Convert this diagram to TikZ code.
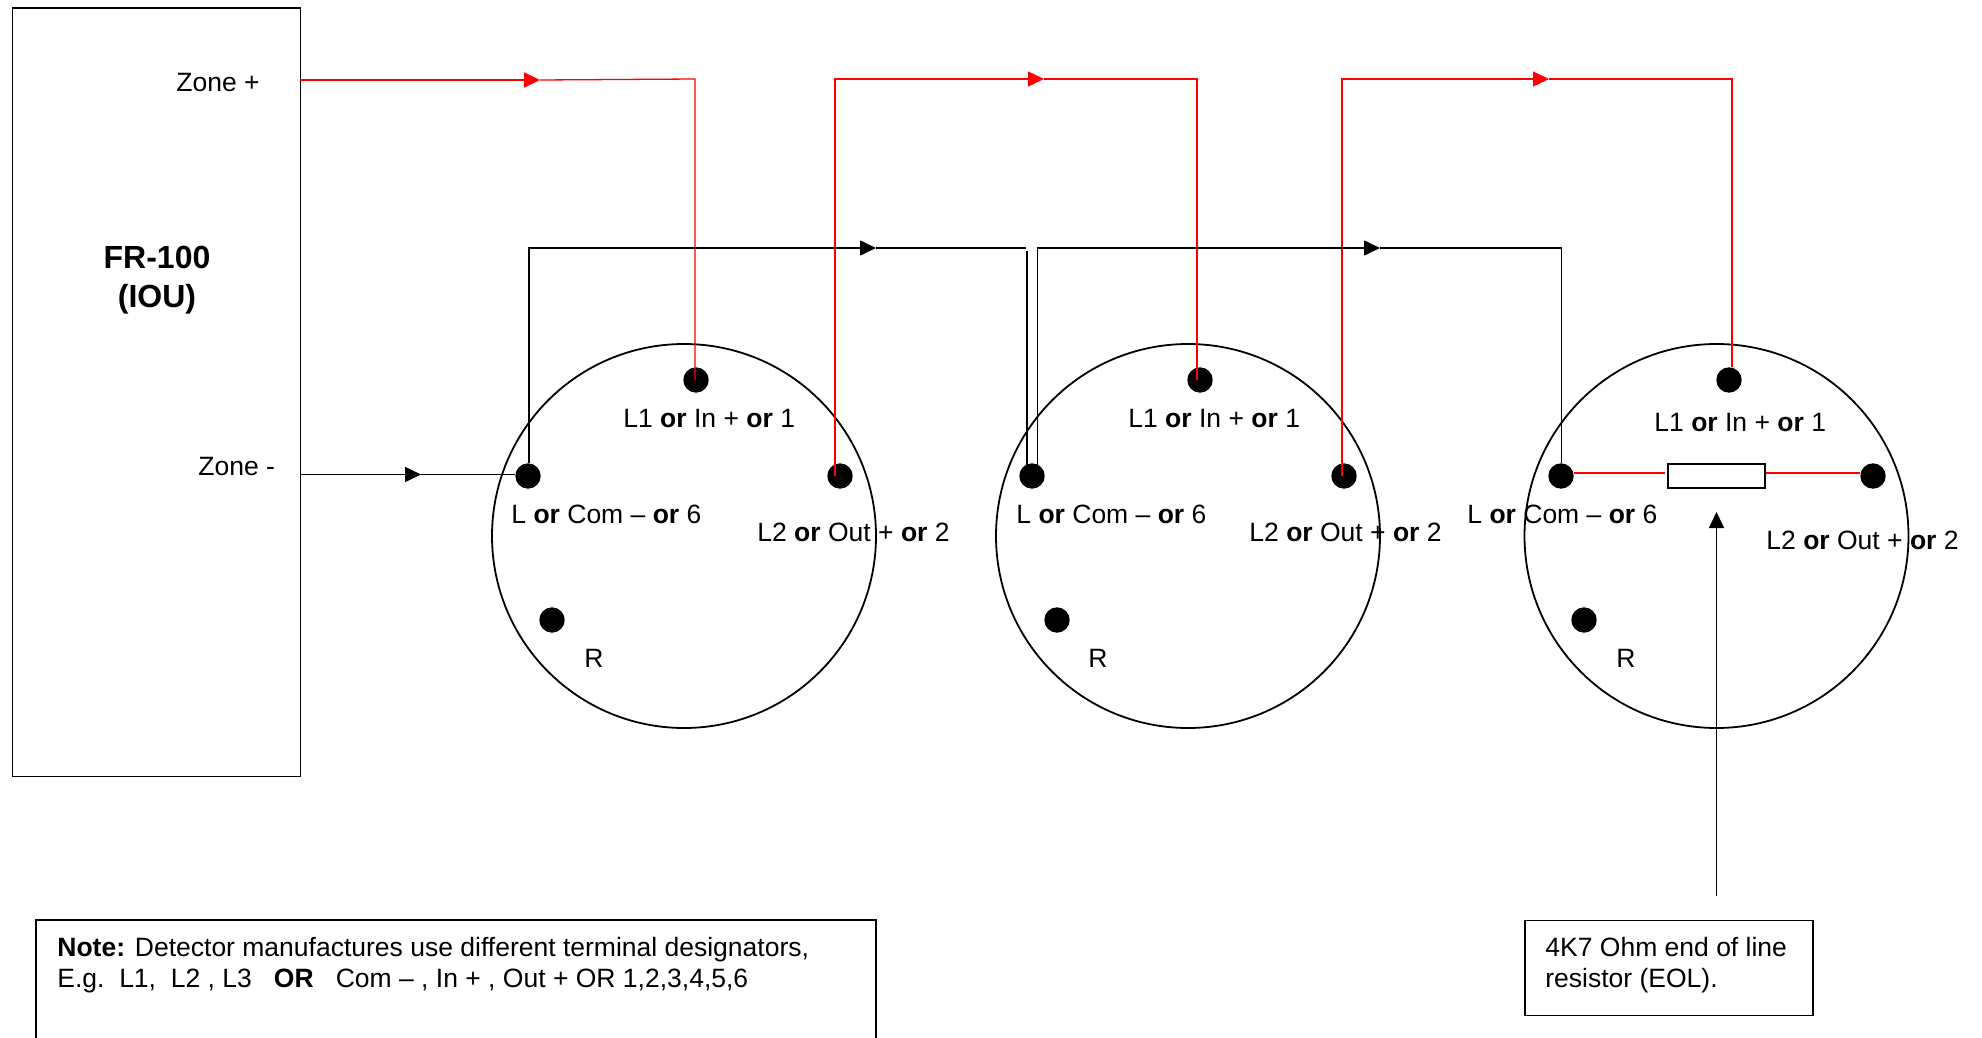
\documentclass[tikz,border=0pt]{standalone}
\usepackage{fontspec}
\setmainfont{Liberation Sans}
\usetikzlibrary{arrows.meta,positioning}
\definecolor{wirered}{RGB}{255,0,0}
\newcommand{\orb}{\textbf{or}}
\tikzset{
  x=0.5pt,y=-0.5pt,
  every node/.style={font=\fontsize{13.25}{15}\selectfont},
  lbl/.style={anchor=base west,inner sep=0pt},
  title/.style={anchor=base,inner sep=0pt,font=\fontsize{16}{18}\selectfont\bfseries},
  frame/.style={draw=black,line width=0.9pt},
  detector/.style={circle,draw=black,line width=0.9pt,minimum size=192pt,inner sep=0pt},
  term/.style={circle,fill=black,minimum size=12.7pt,inner sep=0pt},
  redw/.style={draw=wirered,line width=0.65pt},
  blkw/.style={draw=black,line width=0.8pt},
  redtip/.style={redw,-{Triangle[length=8pt,width=7.5pt]}},
  blktip/.style={blkw,-{Triangle[length=8pt,width=7.5pt]}}
}
\begin{document}
\begin{tikzpicture}
\useasboundingbox (0,0) rectangle (1982,1038);
% panel
\node[frame,anchor=north west,minimum width=144pt,minimum height=384pt,inner sep=0pt] (fr) at (11.5,7.5) {};
\node[title] (frt) at (157,268) {FR-100};
\node[title] (frb) at (157,307) {(IOU)};
\node[lbl] (zp) at (176,92) {Zone +};
\node[lbl] (zm) at (198,475) {Zone -};
% detectors
\node[detector] (c1) at (684,536) {};
\node[detector] (c2) at (1188,536) {};
\node[detector] (c3) at (1716.5,536) {};
% terminals
\node[term] (a1) at (696,380) {};
\node[term] (a2) at (528,476) {};
\node[term] (a3) at (840,476) {};
\node[term] (a4) at (552,620) {};
\node[term] (b1) at (1200,380) {};
\node[term] (b2) at (1032,476) {};
\node[term] (b3) at (1344,476) {};
\node[term] (b4) at (1057,620) {};
\node[term] (e1) at (1729,380) {};
\node[term] (e2) at (1561,476) {};
\node[term] (e3) at (1873,476) {};
\node[term] (e4) at (1584,620) {};
% terminal labels
\node[lbl] (la1) at (623,427) {L1 \orb{} In + \orb{} 1};
\node[lbl] (la2) at (511,523) {L \orb{} Com – \orb{} 6};
\node[lbl] (la3) at (757,541) {L2 \orb{} Out + \orb{} 2};
\node[lbl] (la4) at (584,667) {R};
\node[lbl] (lb1) at (1128,427) {L1 \orb{} In + \orb{} 1};
\node[lbl] (lb2) at (1016,523) {L \orb{} Com – \orb{} 6};
\node[lbl] (lb3) at (1249,541) {L2 \orb{} Out + \orb{} 2};
\node[lbl] (lb4) at (1088,667) {R};
\node[lbl] (le1) at (1654,431) {L1 \orb{} In + \orb{} 1};
\node[lbl] (le2) at (1467,523) {L \orb{} Com – \orb{} 6};
\node[lbl] (le3) at (1766,549) {L2 \orb{} Out + \orb{} 2};
\node[lbl] (le4) at (1616,667) {R};
% resistor
\node[frame,fill=white,minimum width=48.5pt,minimum height=12pt,inner sep=0pt] (res) at (1716.5,476) {};
% red loop
\coordinate (zpw) at (300,80);
\coordinate (rt1) at (540,80);
\coordinate (rc1) at (695,79);
\coordinate (rc2) at (835,79);
\coordinate (rt2) at (1044,79);
\coordinate (rc3) at (1197,79);
\coordinate (rc4) at (1342,79);
\coordinate (rt3) at (1549,79);
\coordinate (rc5) at (1732,79);
\draw[redtip,line width=1pt] (zpw) -- (rt1);
\draw[redw] (rt1) -- (rc1) -- (rc1 |- a1.center);
\draw[redtip] (a3.center -| rc2) -- (rc2) -- (rt2);
\draw[redw] (rt2) -- (rc3) -- (rc3 |- b1.center);
\draw[redtip] (b3.center -| rc4) -- (rc4) -- (rt3);
\draw[redw] (rt3) -- (rc5) -- (rc5 |- e1.north);
% black loop
\coordinate (zmw) at (300,474.5);
\coordinate (bt0) at (421,474.5);
\coordinate (bc1) at (529,248);
\coordinate (bt1) at (876,248);
\coordinate (bc2) at (1026,248);
\coordinate (bc3) at (1037.5,248);
\coordinate (bt2) at (1380,248);
\coordinate (bc4) at (1561.5,248);
\coordinate (bd2) at (1027,251);
\draw[blktip] (zmw) -- (bt0);
\draw[blkw] (bt0) -- (bt0 -| a2.west);
\draw[blktip] (a2.north -| bc1) -- (bc1) -- (bt1);
\draw[blkw] (bt1) -- (bc2);
\draw[blkw] (bd2) -- (bd2 |- b2.center);
\draw[blktip] (b2.center -| bc3) -- (bc3) -- (bt2);
\draw[blkw] (bt2) -- (bc4) -- (bc4 |- e2.north);
% resistor leads
\coordinate (rl) at ([yshift=1.5pt,xshift=-1pt]res.west);
\coordinate (rr) at ([yshift=1.5pt]res.east);
\draw[redw] (rl) -- (rl -| e2.east);
\draw[redw] (rr) -- (rr -| e3.west);
% notes
\draw[frame] (36,1038) |- (876,920) -- (876,1038);
\node[lbl] (n1) at (57,956) {\textbf{Note:} Detector manufactures use different terminal designators,};
\node[lbl] (n2) at (57,987) {E.g.\ \ L1,\ \ L2 , L3\ \ \ \textbf{OR}\ \ \ Com – , In + , Out + OR 1,2,3,4,5,6};
\node[frame,anchor=north west,minimum width=144pt,minimum height=47.5pt,inner sep=0pt] (eol) at (1524,919.5) {};
\node[lbl] (e5) at (1545,956) {4K7 Ohm end of line};
\node[lbl] (e6) at (1545,987) {resistor (EOL).};
\coordinate (eolt) at (1716.5,896);
\coordinate (eolh) at (1716.5,512);
\draw[blktip] (eolt) -- (eolh);
\end{tikzpicture}
\end{document}
